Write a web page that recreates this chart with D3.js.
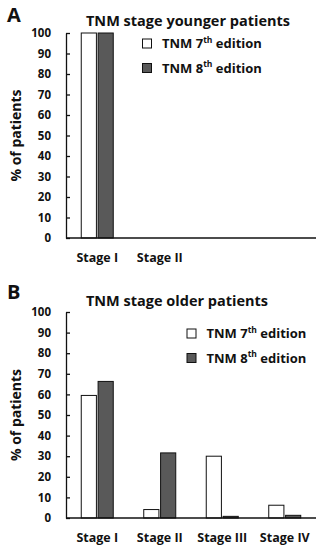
<!DOCTYPE html>
<html>
<head>
<meta charset="utf-8">
<script src="https://cdn.jsdelivr.net/npm/d3@7"></script>
<style>
  body { margin: 0; background: #fff; }
  text { font-family: "Open Sans", sans-serif; font-weight: bold; fill: #111; }
</style>
</head>
<body>
<script>
// chart data
const stages = ["Stage I", "Stage II", "Stage III", "Stage IV"];
const youngerStages = ["Stage I", "Stage II"];
const youngerTnm7 = [100, 0];
const youngerTnm8 = [100, 0];
const olderStages = ["Stage I", "Stage II", "Stage III", "Stage IV"];
const olderTnm7 = [59.5, 4.1, 30.0, 6.2];
const olderTnm8 = [66.3, 31.6, 0.8, 1.3];
const seriesNames = ["TNM 7", "TNM 8"];
const yTicks = [0, 10, 20, 30, 40, 50, 60, 70, 80, 90, 100];

const colors = ["#ffffff", "#595959"];

const svg = d3.select("body")
    .append("svg")
      .attr("width", 323)
      .attr("height", 550);

const x = d3.scaleBand()
    .domain(stages)
    .range([66, 316]);

const xInner = d3.scaleBand()
    .domain(seriesNames)
    .range([0, 32])
    .paddingInner(0.1);

function drawPanel(cfg) {
    const y = d3.scaleLinear()
        .domain([0, 100])
        .range([cfg.bottom, cfg.top]);

    const g = svg.append("g");

    // panel letter + title
    g.append("text")
        .attr("x", 7)
        .attr("y", cfg.letterY)
        .attr("font-size", 20)
        .text(cfg.letter);

    g.append("text")
        .attr("x", cfg.titleX)
        .attr("y", cfg.titleY)
        .attr("text-anchor", "middle")
        .attr("font-size", 14.5)
        .text(cfg.title);

    // bars
    const rows = cfg.cats.map((c, i) => ({ cat: c, vals: [cfg.s7[i], cfg.s8[i]] }));
    const grp = g.selectAll(".grp")
        .data(rows)
        .enter()
        .append("g")
          .attr("transform", d => `translate(${x(d.cat) + x.bandwidth() / 2 - 16},0)`);

    grp.selectAll("rect")
        .data(d => d.vals.map((v, i) => ({ v: v, s: seriesNames[i], i: i })))
        .enter()
        .filter(d => d.v > 0)
        .append("rect")
          .attr("x", d => xInner(d.s))
          .attr("width", xInner.bandwidth())
          .attr("y", d => y(d.v))
          .attr("height", d => y(0) - y(d.v))
          .attr("fill", d => colors[d.i])
          .attr("stroke", "#111")
          .attr("stroke-width", 1);

    // y axis
    const yAxis = g.append("g")
        .attr("transform", "translate(66,0)")
        .call(d3.axisLeft(y).tickValues(yTicks).tickSizeInner(-4).tickSizeOuter(0).tickPadding(15));
    yAxis.selectAll("text").attr("font-size", 11.5).attr("font-family", "'Open Sans', sans-serif").attr("fill", "#111");
    yAxis.selectAll("line, path").attr("stroke", "#111").attr("stroke-width", 1.3);

    // x axis line + labels
    g.append("line")
        .attr("x1", x.range()[0])
        .attr("x2", x.range()[1])
        .attr("y1", y(0))
        .attr("y2", y(0))
        .attr("stroke", "#111")
        .attr("stroke-width", 1.5);

    g.selectAll(".xlab")
        .data(cfg.cats)
        .enter()
        .append("text")
          .attr("x", d => x(d) + x.bandwidth() / 2)
          .attr("y", y(0) + 24)
          .attr("text-anchor", "middle")
          .attr("font-size", 12.5)
          .text(d => d);

    // y label
    g.append("text")
        .attr("transform", `translate(21,${(cfg.top + cfg.bottom) / 2}) rotate(-90)`)
        .attr("text-anchor", "middle")
        .attr("font-size", 14)
        .text("% of patients");

    // legend
    const leg = g.selectAll(".leg")
        .data([["7", "th"], ["8", "th"]])
        .enter()
        .append("g")
          .attr("transform", (d, i) => `translate(${cfg.legX},${cfg.legY + i * 24.5})`);

    leg.append("rect")
        .attr("x", 0)
        .attr("y", -9)
        .attr("width", 9)
        .attr("height", 9)
        .attr("fill", (d, i) => colors[i])
        .attr("stroke", "#111")
        .attr("stroke-width", 1);

    const lt = leg.append("text")
        .attr("x", 19.5)
        .attr("y", 0)
        .attr("font-size", 13);
    lt.append("tspan").text(d => "TNM " + d[0]);
    lt.append("tspan").attr("font-size", 8.5).attr("dy", -5.5).text(d => d[1]);
    lt.append("tspan").attr("dy", 5.5).text(" edition");
}

drawPanel({
    letter: "A", letterY: 22,
    title: "TNM stage younger patients", titleX: 188, titleY: 26,
    top: 33, bottom: 238,
    cats: youngerStages, s7: youngerTnm7, s8: youngerTnm8,
    legX: 142.5, legY: 48
});

drawPanel({
    letter: "B", letterY: 299,
    title: "TNM stage older patients", titleX: 177, titleY: 306,
    top: 312, bottom: 518,
    cats: olderStages, s7: olderTnm7, s8: olderTnm8,
    legX: 187, legY: 338
});
</script>
</body>
</html>
